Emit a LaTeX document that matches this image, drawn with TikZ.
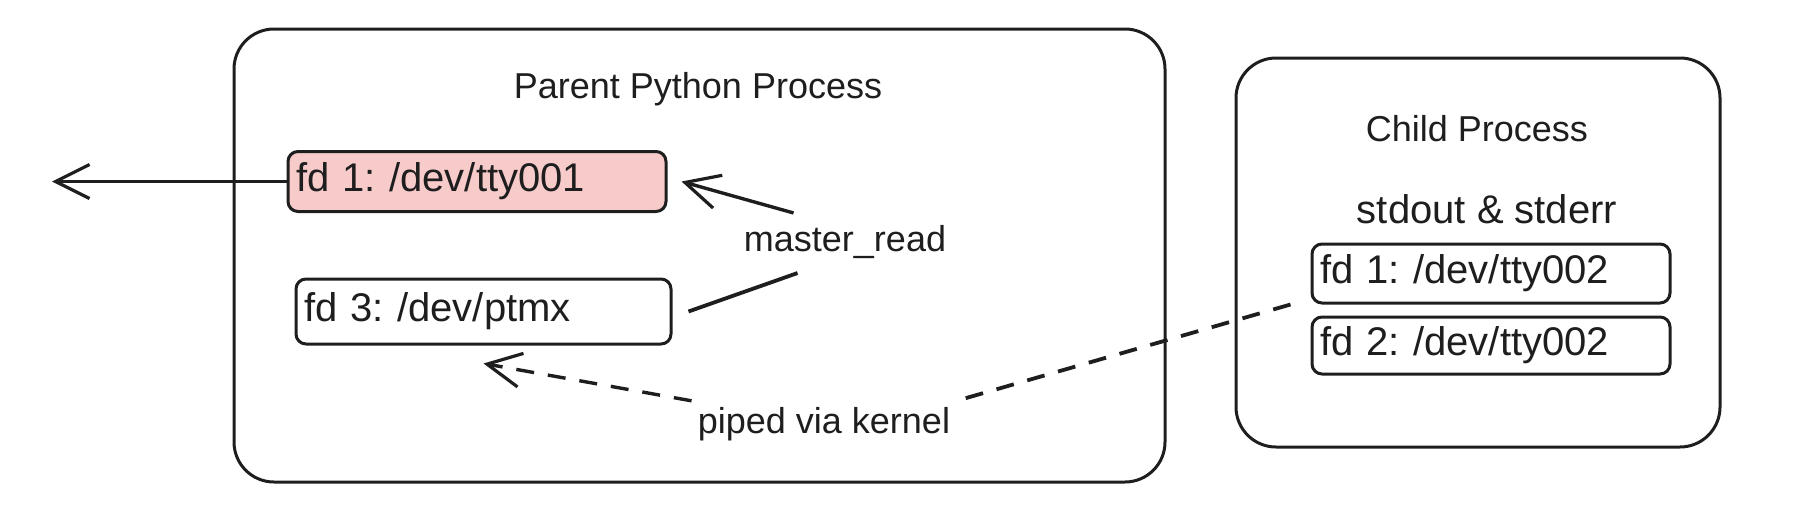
\documentclass[tikz,border=0pt]{standalone}
\usepackage{fontspec}
\setmainfont{Liberation Sans}
\usetikzlibrary{positioning,arrows.meta}
\definecolor{ink}{HTML}{1E1E1E}
\definecolor{pinkfill}{HTML}{F8CBCB}

\begin{document}
\frenchspacing
\begin{tikzpicture}[
    x=0.5pt, y=-0.5pt,
    every node/.style={font=\fontsize{18}{21}\selectfont, text=ink},
    big/.style={font=\fontsize{20}{23}\selectfont},
    proc/.style={draw=ink, line width=1.5pt, rounded corners=20pt},
    fdbox/.style={draw=ink, line width=1.5pt, rounded corners=5pt, minimum height=30pt, text width=181pt, inner xsep=4pt, align=left, big},
    hot/.style={fdbox, fill=pinkfill},
    arr/.style={-{Straight Barb[length=17pt, width=17pt, line width=1.6pt]}, line width=1.7pt, draw=ink},
    link/.style={line width=1.9pt, draw=ink},
    piped/.style={dash pattern=on 9pt off 7pt},
    tag/.style={inner sep=3pt},
]
\useasboundingbox (0,0) rectangle (1808,530);

% Containers
\node[proc, minimum width=465.5pt, minimum height=226.5pt] (parent) at (699.5,255.5) {};
\node[proc, minimum width=242pt, minimum height=194.5pt] (child) at (1478,252.5) {};

% Parent side
\node (ptitle) at (698,89) {Parent Python Process};
\node[hot] (tty001) at (477,181.5) {fd 1: /dev/tty001};
\node[fdbox, text width=179.5pt, minimum height=32.5pt] (ptmx) at (483.5,311.5) {fd 3: /dev/ptmx};

% Child side
\node (ctitle) at (1477,129) {Child Process};
\node[big] (streams) at (1487,209) {stdout \& stderr};
\node[fdbox, text width=171pt, minimum height=29.5pt] (tty002a) at (1491,273.5) {fd 1: /dev/tty002};
\node[fdbox, text width=171pt, minimum height=28.5pt, below=5.5pt of tty002a] (tty002b) {fd 2: /dev/tty002};

% Labels on connectors
\node[tag] (mread) at (845,242) {master\_read};
\node[tag] (kernel) at (824,424) {piped via kernel};

% Output to the left
\coordinate (out) at (52,181.5);
\draw[arr] (tty001.west) -- (out);

% master_read: ptmx -> tty001
\draw[link] ([xshift=8pt]ptmx.east) -- ([shift={(30pt,-4pt)}]mread.south west);
\draw[arr] ([shift={(28pt,3pt)}]mread.north west) -- ([xshift=7pt]tty001.east);

% Child fds piped back to ptmx
\draw[link, piped] ([xshift=-10pt]tty002a.south west) -- (kernel.north east);
\draw[arr, piped] (kernel.north west) -- ([yshift=-9pt]ptmx.south);

\end{tikzpicture}
\end{document}
